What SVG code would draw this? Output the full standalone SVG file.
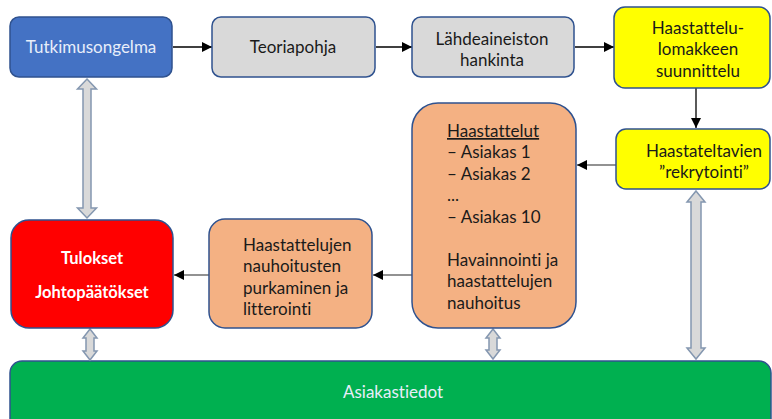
<svg xmlns="http://www.w3.org/2000/svg" width="772" height="419" viewBox="0 0 772 419">
  <style>
    text { font-family: Lato, "Open Sans", "Liberation Sans", sans-serif; font-size: 17px; fill: #1a1a1a; font-variant-ligatures: none; }
    .box { stroke: #2f528f; stroke-width: 1.5; }
    .mid { text-anchor: middle; }
    .light { fill: #e8eefa; }
    .white { fill: #ffffff; font-weight: bold; font-size: 16.5px; }
    .flow { stroke: #000000; stroke-width: 1.3; fill: none; }
    .flow2 { stroke: #6e6e6e; stroke-width: 1.5; fill: none; }
    .block { fill: #d9d9d9; stroke: #8497b0; stroke-width: 1.5; }
  </style>
  <defs>
    <marker id="head" viewBox="0 0 10 10" refX="10" refY="5" markerWidth="10" markerHeight="10" markerUnits="userSpaceOnUse" orient="auto">
      <path d="M0,0 L10,5 L0,10 Z" fill="#000000"/>
    </marker>
  </defs>
  <rect width="772" height="419" fill="#ffffff"/>

  <g id="asiakastiedot">
    <rect class="box" x="10" y="361" width="761" height="80" rx="12" fill="#00b050"/>
    <text class="mid light" x="393" y="398">Asiakastiedot</text>
  </g>

  <g id="connectors">
    <line class="flow" x1="173" y1="47" x2="212" y2="47" marker-end="url(#head)"/>
    <line class="flow" x1="376" y1="47" x2="412" y2="47" marker-end="url(#head)"/>
    <line class="flow" x1="575" y1="47" x2="614" y2="47" marker-end="url(#head)"/>
    <line class="flow" x1="696" y1="88" x2="696" y2="128" marker-end="url(#head)"/>
    <line class="flow2" x1="616" y1="165" x2="577" y2="165" marker-end="url(#head)"/>
    <line class="flow2" x1="412" y1="275" x2="373" y2="275" marker-end="url(#head)"/>
    <line class="flow2" x1="209" y1="275" x2="174" y2="275" marker-end="url(#head)"/>
    <path class="block" d="M87,79 L96.5,89 L91,89 L91,208 L96.5,208 L87,218 L77.5,208 L83,208 L83,89 L77.5,89 Z"/>
    <path class="block" d="M90,329 L97,338 L94,338 L94,351 L97,351 L90,360 L83,351 L86,351 L86,338 L83,338 Z"/>
    <path class="block" d="M493,329 L500,338 L497,338 L497,350 L500,350 L493,359 L486,350 L489,350 L489,338 L486,338 Z"/>
    <path class="block" d="M696,191 L705,202 L701,202 L701,348 L705,348 L696,359 L687,348 L691,348 L691,202 L687,202 Z"/>
  </g>

  <g id="tutkimusongelma">
    <rect class="box" x="10" y="17" width="162" height="60" rx="9" fill="#4472c4"/>
    <text class="mid light" x="91" y="53">Tutkimusongelma</text>
  </g>

  <g id="teoriapohja">
    <rect class="box" x="212" y="17" width="163" height="60" rx="9" fill="#d9d9d9"/>
    <text class="mid" x="293" y="53">Teoriapohja</text>
  </g>

  <g id="lahdeaineisto">
    <rect class="box" x="412" y="17" width="162" height="60" rx="9" fill="#d9d9d9"/>
    <text class="mid" x="492" y="45">Lähdeaineiston</text>
    <text class="mid" x="492" y="66">hankinta</text>
  </g>

  <g id="lomake">
    <rect class="box" x="614" y="7" width="156" height="81" rx="11" fill="#ffff00"/>
    <text class="mid" x="698" y="34">Haastattelu-</text>
    <text class="mid" x="698" y="55">lomakkeen</text>
    <text class="mid" x="698" y="77">suunnittelu</text>
  </g>

  <g id="rekrytointi">
    <rect class="box" x="616" y="129" width="154" height="60" rx="10" fill="#ffff00"/>
    <text class="mid" x="704" y="157">Haastateltavien</text>
    <text class="mid" x="704" y="178">”rekrytointi”</text>
  </g>

  <g id="haastattelut">
    <rect class="box" x="412" y="103" width="164" height="225" rx="26" fill="#f4b183"/>
    <text x="447" y="137" text-decoration="underline">Haastattelut</text>
    <text x="447" y="158">– Asiakas 1</text>
    <text x="447" y="180">– Asiakas 2</text>
    <text x="447" y="201">...</text>
    <text x="447" y="223">– Asiakas 10</text>
    <text x="447" y="266">Havainnointi ja</text>
    <text x="447" y="287">haastattelujen</text>
    <text x="447" y="309">nauhoitus</text>
  </g>

  <g id="litterointi">
    <rect class="box" x="209" y="219" width="163" height="109" rx="16" fill="#f4b183"/>
    <text x="243" y="251">Haastattelujen</text>
    <text x="243" y="272">nauhoitusten</text>
    <text x="243" y="294">purkaminen ja</text>
    <text x="243" y="315">litterointi</text>
  </g>

  <g id="tulokset">
    <rect class="box" x="11" y="220" width="162" height="108" rx="18" fill="#ff0000"/>
    <text class="mid white" x="92" y="264">Tulokset</text>
    <text class="mid white" x="92" y="298">Johtopäätökset</text>
  </g>
</svg>
